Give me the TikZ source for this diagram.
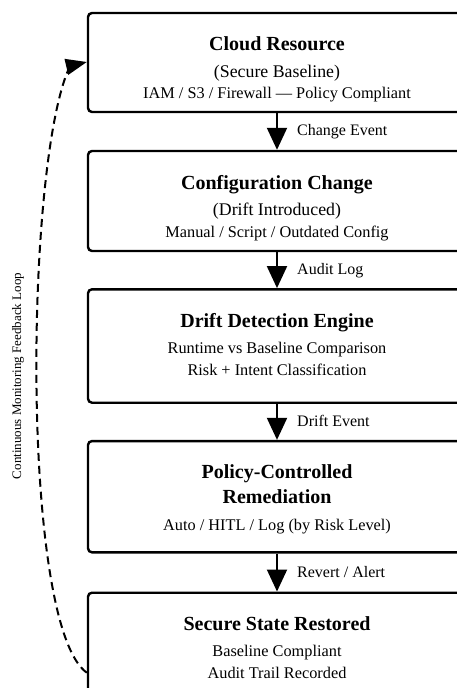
\documentclass[tikz,border=0pt]{standalone}
\usepackage{fontspec}
\setmainfont{Liberation Serif}
\usetikzlibrary{arrows.meta}
\begin{document}
\begin{tikzpicture}[x=1pt,y=-1pt,
  box/.style={draw, line width=2.4pt, rounded corners=4pt, minimum width=378pt, inner sep=0pt},
  ttl/.style={anchor=base, inner sep=0pt, font=\fontsize{20}{24}\selectfont\bfseries},
  par/.style={anchor=base, inner sep=0pt, font=\fontsize{17.8}{21}\selectfont},
  txt/.style={anchor=base, inner sep=0pt, font=\fontsize{16.3}{20}\selectfont},
  lbl/.style={anchor=base west, inner sep=0pt, font=\fontsize{16}{19}\selectfont},
  flow/.style={line width=2pt, -{Triangle[length=22pt,width=20pt]}},
  loop/.style={line width=2pt, dash pattern=on 8pt off 5pt, -{Triangle[length=21pt,width=16pt]}}]
\useasboundingbox (0,0) rectangle (457,688);
\clip (0,0) rectangle (457,688);

\node[box, minimum height=99pt] (b1) at (277,62.5) {};
\node[box, minimum height=100pt] (b2) at (277,201) {};
\node[box, minimum height=113.4pt] (b3) at (277,346) {};
\node[box, minimum height=111.3pt] (b4) at (277,496.7) {};
\node[box, minimum height=130pt] (b5) at (277,657.7) {};

\node[ttl] (t1) at (277,50.7) {Cloud Resource};
\node[par] (s1a) at (277,77) {(Secure Baseline)};
\node[txt] (s1b) at (277,98.5) {IAM / S3 / Firewall — Policy Compliant};

\node[ttl] (t2) at (277,189.6) {Configuration Change};
\node[par] (s2a) at (277,215) {(Drift Introduced)};
\node[txt] (s2b) at (277,237) {Manual / Script / Outdated Config};

\node[ttl] (t3) at (277,327.6) {Drift Detection Engine};
\node[txt] (s3a) at (277,353.3) {Runtime vs Baseline Comparison};
\node[txt] (s3b) at (277,375.3) {Risk + Intent Classification};

\node[ttl] (t4a) at (277,478.3) {Policy-Controlled};
\node[ttl] (t4b) at (277,503.9) {Remediation};
\node[txt] (s4a) at (277,530.3) {Auto / HITL / Log (by Risk Level)};

\node[ttl] (t5) at (277,630) {Secure State Restored};
\node[txt] (s5a) at (277,656) {Baseline Compliant};
\node[txt] (s5b) at (277,678.3) {Audit Trail Recorded};

\draw[flow] (b1.south) -- (b2.north);
\draw[flow] (b2.south) -- (b3.north);
\draw[flow] (b3.south) -- (b4.north);
\draw[flow] (b4.south) -- (b5.north);

\node[lbl] (l1) at (297,135.3) {Change Event};
\node[lbl] (l2) at (297,274.6) {Audit Log};
\node[lbl] (l3) at (297,426.3) {Drift Event};
\node[lbl] (l4) at (297,577) {Revert / Alert};

\coordinate (lp) at (70,66);
\draw[loop] ([yshift=-15pt]b5.west) .. controls (20,625) and (25,160) .. (lp) -- ([yshift=0.5pt]b1.west);

\node[rotate=90, inner sep=0pt, font=\fontsize{13}{16}\selectfont] (side) at (18,376) {Continuous Monitoring Feedback Loop};
\end{tikzpicture}
\end{document}
